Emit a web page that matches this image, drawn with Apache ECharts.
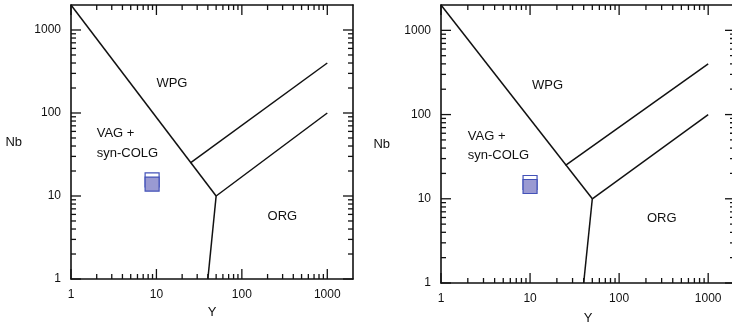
<!DOCTYPE html>
<html>
<head>
<meta charset="utf-8">
<script src="https://cdn.jsdelivr.net/npm/echarts@6/dist/echarts.min.js"></script>
<style>
  html, body { margin: 0; padding: 0; background: #fff; }
  #chart { width: 732px; height: 323px; }
</style>
</head>
<body>
<div id="chart"></div>
<script>
// Pearce et al. (1984) Nb-Y discrimination, two panels
const axisMin = 1;
const axisMax = 2000;
const majorTicks = [1, 10, 100, 1000];
const minorTicks = [2, 3, 4, 5, 6, 7, 8, 9, 20, 30, 40, 50, 60, 70, 80, 90, 200, 300, 400, 500, 600, 700, 800, 900];

// field boundaries [Y, Nb]
const boundaryVagWpg = [[1, 2000], [50, 10]];
const boundaryWpgUpper = [[25, 25], [1000, 400]];
const boundaryWpgOrg = [[50, 10], [1000, 100]];
const boundaryVagOrg = [[50, 10], [40, 1]];
const boundaries = [boundaryVagWpg, boundaryWpgUpper, boundaryWpgOrg, boundaryVagOrg];

// field labels: [Y, Nb] anchor (left edge, middle)
const fieldNames = ['WPG', 'VAG +', 'syn-COLG', 'ORG'];
const fieldAnchorsLeft = [[10, 230], [2, 57], [2, 33], [200, 5.6]];
const fieldAnchorsRight = [[10.5, 220], [2, 55], [2, 33], [205, 5.8]];

// samples [Y, Nb]
const leftOpenSample = [[8.9, 15.6]];
const leftFilledSample = [[8.9, 13.9]];
const rightOpenSample = [[10, 15.6]];
const rightFilledSample = [[10, 14]];

const font = 'Liberation Sans, Arial, sans-serif';
const ink = '#111';

const chart = echarts.init(document.getElementById('chart'));

const grids = [
  { left: 71, top: 5, width: 282, height: 274, containLabel: false, outerBoundsMode: 'none' },
  { left: 441, top: 5, width: 294, height: 278, containLabel: false, outerBoundsMode: 'none' }
];

const logAxis = (gridIndex, position, primary, name, nameGap) => ({
  type: 'log',
  logBase: 10,
  gridIndex,
  position,
  min: axisMin,
  max: axisMax,
  name: primary ? name : '',
  nameLocation: 'middle',
  nameGap,
  nameRotate: 0,
  nameMoveOverlap: false,
  nameTextStyle: { fontFamily: font, fontSize: 13, color: ink },
  axisLine: { show: true, onZero: false, lineStyle: { color: ink, width: 1.6 } },
  axisTick: { show: false },
  axisLabel: {
    show: primary,
    customValues: majorTicks,
    fontFamily: font,
    fontSize: 12,
    color: ink,
    margin: 10,
    hideOverlap: false,
    formatter: v => String(Math.round(v))
  },
  splitLine: { show: false },
  minorTick: { show: false }
});

const xAxes = [];
const yAxes = [];
grids.forEach((g, i) => {
  xAxes.push(logAxis(i, 'bottom', true, 'Y', i === 0 ? 27 : 29));
  xAxes.push(logAxis(i, 'top', false, '', 0));
  yAxes.push(logAxis(i, 'left', true, 'Nb', i === 0 ? 49 : 51));
  yAxes.push(logAxis(i, 'right', false, '', 0));
});

// tick marks on all four sides, pointing inward
const tickValues = majorTicks.map(v => [v, v, 1]).concat(minorTicks.map(v => [v, v, 0]));

const tickSeries = i => ({
  type: 'custom',
  xAxisIndex: i * 2,
  yAxisIndex: i * 2,
  silent: true,
  clip: false,
  z: 10,
  data: tickValues,
  renderItem: (params, api) => {
    const lo = api.coord([axisMin, axisMin]);
    const hi = api.coord([axisMax, axisMax]);
    const left = lo[0], bottom = lo[1], right = hi[0], top = hi[1];
    const px = api.coord([api.value(0), axisMin])[0];
    const py = api.coord([axisMin, api.value(1)])[1];
    const len = api.value(2) ? 10 : 5;
    const mk = (x1, y1, x2, y2) => ({
      type: 'line',
      shape: { x1, y1, x2, y2 },
      style: { stroke: ink, lineWidth: 1.3 }
    });
    return {
      type: 'group',
      children: [
        mk(px, bottom, px, bottom - len),
        mk(px, top, px, top + len),
        mk(left, py, left + len, py),
        mk(right, py, right - len, py)
      ]
    };
  }
});

const boundarySeries = i => boundaries.map(b => ({
  type: 'line',
  xAxisIndex: i * 2,
  yAxisIndex: i * 2,
  data: b,
  symbol: 'none',
  silent: true,
  lineStyle: { color: ink, width: 1.5 },
  z: 3
}));

const labelSeries = (i, anchors) => ({
  type: 'custom',
  xAxisIndex: i * 2,
  yAxisIndex: i * 2,
  silent: true,
  data: anchors.map((a, k) => [a[0], a[1], k]),
  renderItem: (params, api) => {
    const p = api.coord([api.value(0), api.value(1)]);
    return {
      type: 'text',
      x: p[0],
      y: p[1],
      style: {
        text: fieldNames[api.value(2)],
        fontFamily: font,
        fontSize: 13,
        fill: ink,
        textAlign: 'left',
        textVerticalAlign: 'middle'
      }
    };
  }
});

const sampleSeries = (i, openData, filledData) => [
  {
    type: 'scatter',
    xAxisIndex: i * 2,
    yAxisIndex: i * 2,
    data: openData,
    symbol: 'rect',
    symbolSize: 14,
    itemStyle: { color: '#ffffff', borderColor: '#4352b8', borderWidth: 1.2, opacity: 1 },
    z: 4
  },
  {
    type: 'scatter',
    xAxisIndex: i * 2,
    yAxisIndex: i * 2,
    data: filledData,
    symbol: 'rect',
    symbolSize: 14,
    itemStyle: { color: '#9a9ad2', borderColor: '#4352b8', borderWidth: 1.2, opacity: 1 },
    z: 5
  }
];

chart.setOption({
  animation: false,
  backgroundColor: '#fff',
  grid: grids,
  xAxis: xAxes,
  yAxis: yAxes,
  series: [
    tickSeries(0),
    tickSeries(1),
    ...boundarySeries(0),
    ...boundarySeries(1),
    labelSeries(0, fieldAnchorsLeft),
    labelSeries(1, fieldAnchorsRight),
    ...sampleSeries(0, leftOpenSample, leftFilledSample),
    ...sampleSeries(1, rightOpenSample, rightFilledSample)
  ]
});
</script>
</body>
</html>
